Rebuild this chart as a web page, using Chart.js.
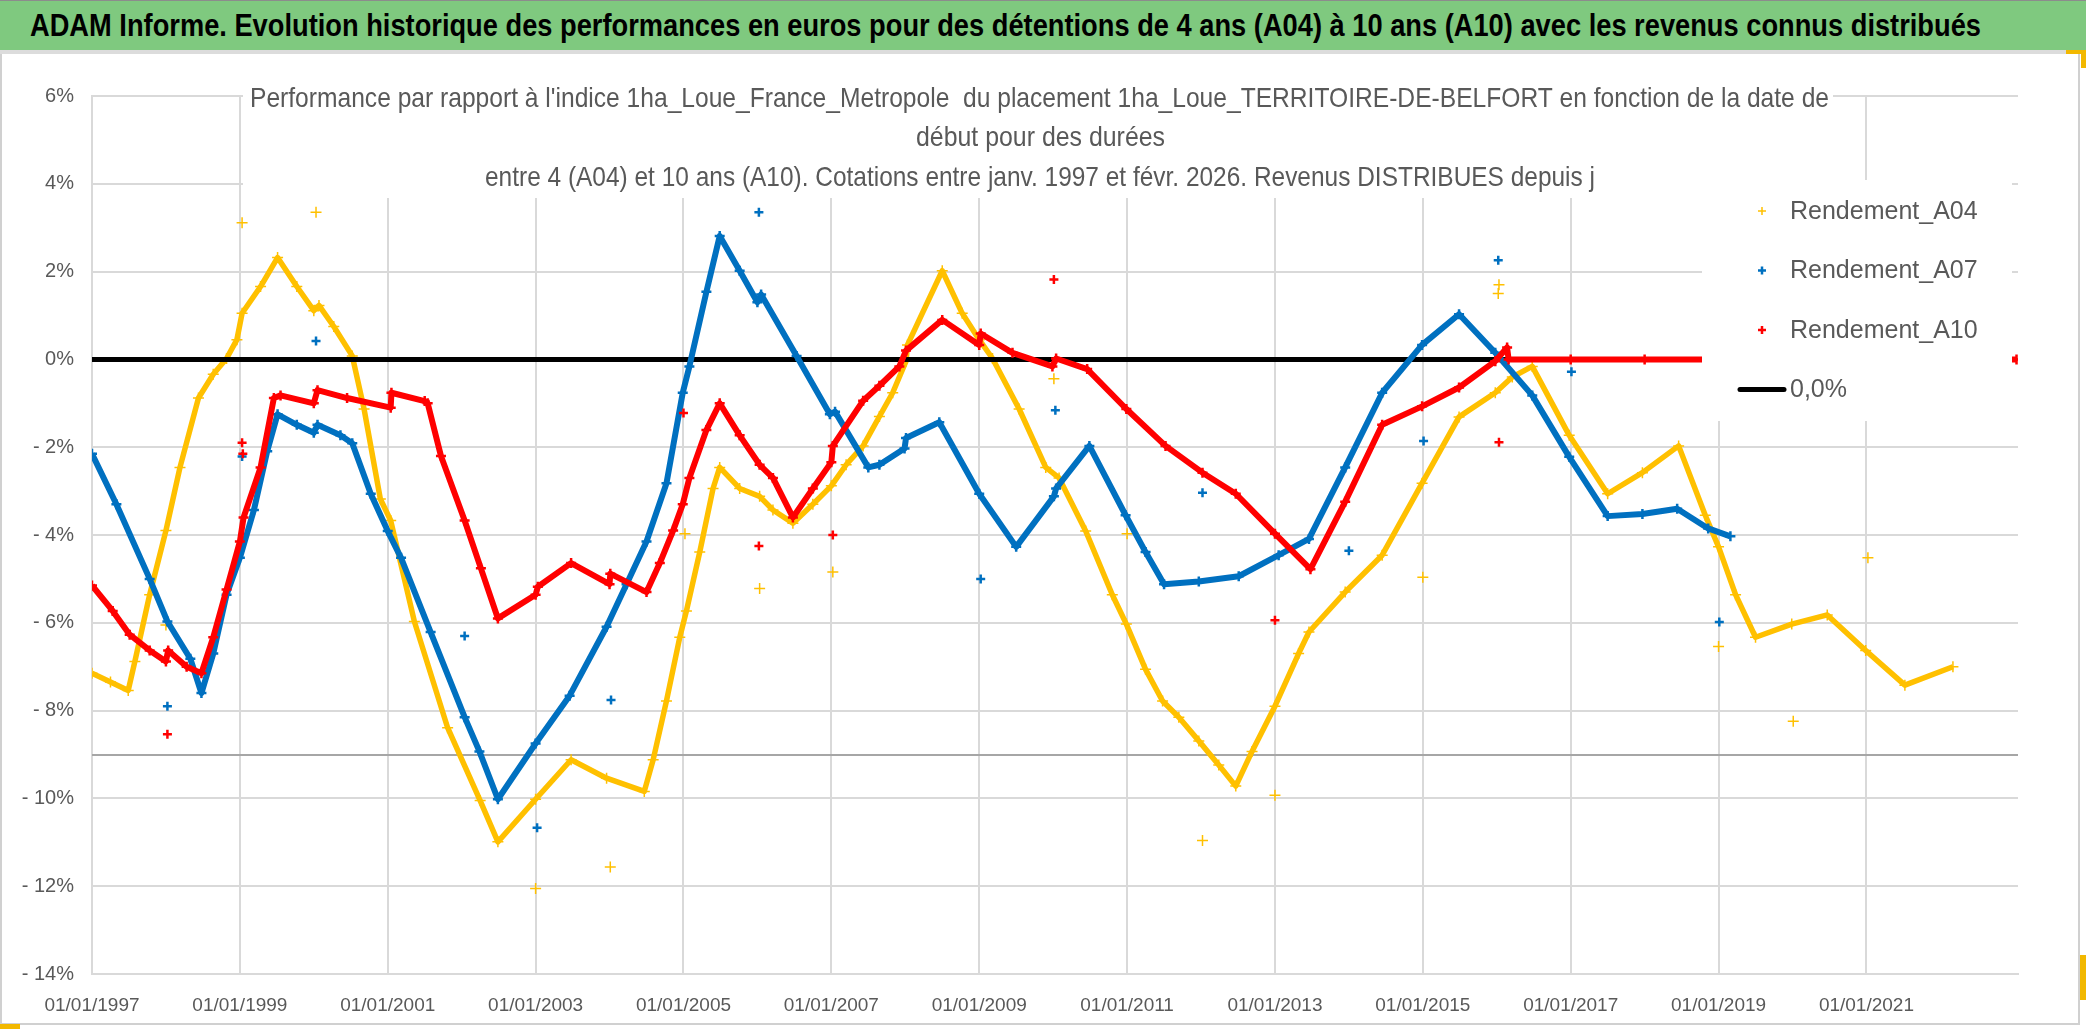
<!DOCTYPE html>
<html lang="fr">
<head>
<meta charset="UTF-8">
<title>ADAM Informe - Rendements A04 A07 A10</title>
<style>
  html, body { margin: 0; padding: 0; background: #fff; }
  body { width: 2086px; height: 1031px; position: relative; overflow: hidden; }
  #bandeau { position: absolute; left: 0; top: 0; width: 2086px; height: 50px; background: #7fc97f;
             border-top: 1px solid #8c8c8c; box-sizing: border-box; z-index: 2; }
  #bandeau span { position: absolute; left: 30px; top: 9px; font: bold 31px/31px "Liberation Sans Narrow", "Liberation Sans", Arial, sans-serif;
                  white-space: nowrap; color: #000; transform-origin: left top; }
  #sep { position: absolute; left: 0; top: 50px; width: 2086px; height: 4px; background: #dcdcdc; z-index: 2; }
  #zone { position: absolute; left: 0; top: 0; width: 2086px; height: 1031px; }
  .poignee { position: absolute; background: #f2b800; z-index: 3; }
</style>
</head>
<body>
<div id="bandeau"><span id="titre">ADAM Informe. Evolution historique des performances en euros pour des détentions de 4 ans (A04) à 10 ans (A10) avec les revenus connus distribués</span></div>
<div id="sep"></div>
<div class="poignee" style="left:2066px;top:50px;width:20px;height:4px"></div>
<div class="poignee" style="left:2081px;top:50px;width:5px;height:18px"></div>
<div class="poignee" style="left:2080px;top:955px;width:6px;height:45px"></div>
<div class="poignee" style="left:0;top:1024px;width:20px;height:5px"></div>
<div id="zone"><canvas id="graphe"></canvas></div>

<script src="https://cdn.jsdelivr.net/npm/chart.js"></script>
<script>
// --- données (années décimales, rendement en %) ---
const a04Years = [1997.00, 1997.25, 1997.49, 1997.58, 1997.78, 1998.00, 1998.19, 1998.44, 1998.64, 1998.82, 1998.96,
  1999.03, 1999.28, 1999.51, 1999.77, 2000.00, 2000.07, 2000.27, 2000.52, 2000.68, 2000.90, 2001.04, 2001.36, 2001.81,
  2002.25, 2002.49, 2003.00, 2003.48, 2003.96, 2004.47, 2004.59, 2004.77, 2004.95, 2005.04, 2005.22, 2005.40, 2005.49,
  2005.76, 2006.03, 2006.21, 2006.48, 2006.75, 2007.00, 2007.20, 2007.43, 2007.65, 2007.83, 2008.01, 2008.03, 2008.50,
  2008.77, 2009.00, 2009.18, 2009.54, 2009.90, 2010.08, 2010.44, 2010.80, 2010.99, 2011.25, 2011.48, 2011.70, 2011.97,
  2012.24, 2012.47, 2012.69, 2013.00, 2013.32, 2013.46, 2013.95, 2014.45, 2014.99, 2015.49, 2015.98, 2016.21, 2016.48,
  2016.98, 2017.50, 2017.97, 2018.46, 2018.82, 2019.00, 2019.23, 2019.50, 2019.99, 2020.47, 2020.99, 2021.52, 2022.17];
const a04Values = [-7.15, -7.35, -7.54, -6.88, -5.36, -3.90, -2.46, -0.88, -0.34, 0.02, 0.45,
  1.05, 1.66, 2.32, 1.66, 1.11, 1.23, 0.75, 0.08, -1.13, -3.18, -3.67, -5.97, -8.39,
  -10.05, -10.99, -10.02, -9.12, -9.54, -9.84, -9.12, -7.78, -6.33, -5.73, -4.39, -2.94, -2.46,
  -2.94, -3.12, -3.43, -3.73, -3.30, -2.88, -2.40, -1.97, -1.30, -0.76, -0.04, 0.33, 2.02,
  1.05, 0.45, 0.02, -1.13, -2.46, -2.70, -3.91, -5.36, -6.03, -7.06, -7.78, -8.15, -8.69,
  -9.24, -9.72, -8.93, -7.90, -6.70, -6.21, -5.30, -4.46, -2.82, -1.31, -0.76, -0.40, -0.16,
  -1.73, -3.06, -2.58, -1.97, -3.55, -4.27, -5.36, -6.33, -6.03, -5.82, -6.63, -7.42, -7.00];
const a04OutYears = [1998.00, 1999.03, 2000.03, 2003.00, 2004.01, 2005.02, 2006.03, 2007.02, 2010.01, 2011.00,
  2012.02, 2013.00, 2015.00, 2016.02, 2016.03, 2019.00, 2020.01, 2021.02];
const a04OutValues = [-6.05, 3.11, 3.35, -12.05, -11.56, -3.97, -5.22, -4.84, -0.44, -3.97,
  -10.96, -9.93, -4.96, 1.50, 1.70, -6.54, -8.24, -4.52];

const a07Years = [1997.00, 1997.33, 1997.78, 1998.02, 1998.33, 1998.48, 1998.64, 1998.82, 1999.00, 1999.19, 1999.37,
  1999.51, 1999.77, 2000.00, 2000.05, 2000.36, 2000.52, 2000.77, 2001.00, 2001.18, 2001.58, 2002.04, 2002.24, 2002.49,
  2003.00, 2003.46, 2003.96, 2004.23, 2004.50, 2004.77, 2004.99, 2005.08, 2005.31, 2005.49, 2005.76, 2006.00, 2006.05,
  2006.53, 2006.98, 2007.05, 2007.50, 2007.65, 2007.99, 2008.01, 2008.46, 2009.00, 2009.50, 2010.01, 2010.04, 2010.49,
  2010.98, 2011.25, 2011.50, 2011.97, 2012.51, 2013.05, 2013.46, 2013.95, 2014.45, 2014.99, 2015.49, 2015.98, 2016.48,
  2016.98, 2017.50, 2017.97, 2018.44, 2018.86, 2019.16];
const a07Values = [-2.15, -3.30, -5.00, -5.97, -6.82, -7.60, -6.70, -5.36, -4.52, -3.43, -2.09,
  -1.25, -1.49, -1.67, -1.49, -1.73, -1.91, -3.06, -3.91, -4.52, -6.21, -8.15, -8.93, -10.02,
  -8.75, -7.66, -6.09, -5.12, -4.15, -2.82, -0.76, -0.16, 1.54, 2.81, 2.02, 1.30, 1.48,
  0.08, -1.25, -1.19, -2.46, -2.40, -2.03, -1.79, -1.43, -3.06, -4.27, -3.12, -2.94, -1.97,
  -3.55, -4.39, -5.12, -5.06, -4.94, -4.46, -4.09, -2.46, -0.76, 0.33, 1.03, 0.15, -0.82,
  -2.22, -3.57, -3.52, -3.40, -3.85, -4.03];
const a07OutYears = [1998.02, 1999.03, 2000.03, 2002.04, 2003.02, 2004.02, 2006.02, 2009.02, 2010.03, 2012.02,
  2014.00, 2015.01, 2016.02, 2017.01, 2019.01];
const a07OutValues = [-7.90, -2.21, 0.42, -6.30, -10.67, -7.76, 3.35, -5.00, -1.16, -3.04,
  -4.36, -1.86, 2.26, -0.28, -5.98];

const a10Years = [1997.00, 1997.28, 1997.51, 1997.78, 1998.00, 1998.03, 1998.28, 1998.48, 1998.64, 1998.82, 1999.00,
  1999.05, 1999.28, 1999.46, 1999.55, 2000.00, 2000.05, 2000.45, 2001.04, 2001.05, 2001.50, 2001.54, 2001.72, 2002.04,
  2002.26, 2002.49, 2003.00, 2003.03, 2003.48, 2004.00, 2004.01, 2004.50, 2004.68, 2004.86, 2004.99, 2005.08, 2005.31,
  2005.49, 2005.76, 2006.03, 2006.21, 2006.48, 2006.75, 2007.00, 2007.02, 2007.43, 2007.65, 2007.92, 2008.01, 2008.50,
  2009.00, 2009.02, 2009.45, 2009.99, 2010.04, 2010.46, 2010.99, 2011.52, 2012.02, 2012.47, 2013.00, 2013.48, 2013.95,
  2014.45, 2014.99, 2015.49, 2015.98, 2016.14, 2016.16, 2017.00, 2018.00, 2019.00, 2020.00, 2021.00, 2022.00, 2023.03];
const a10Values = [-5.15, -5.73, -6.27, -6.63, -6.88, -6.63, -7.00, -7.15, -6.33, -5.24, -4.15,
  -3.60, -2.46, -0.88, -0.82, -1.00, -0.70, -0.88, -1.10, -0.76, -0.95, -1.00, -2.20, -3.67,
  -4.76, -5.90, -5.36, -5.18, -4.64, -5.12, -4.88, -5.30, -4.64, -3.90, -3.30, -2.70, -1.61,
  -1.00, -1.73, -2.40, -2.70, -3.60, -2.94, -2.34, -1.97, -0.94, -0.60, -0.16, 0.20, 0.90,
  0.33, 0.59, 0.15, -0.16, 0.02, -0.22, -1.13, -1.97, -2.58, -3.06, -3.97, -4.78, -3.24,
  -1.49, -1.07, -0.64, -0.04, 0.27, 0.00, 0.00, 0.00, 0.00, 0.00, 0.00, 0.00, 0.00];
const a10OutYears = [1998.02, 1999.03, 1999.04, 2005.00, 2006.02, 2007.02, 2010.01, 2013.00, 2016.03];
const a10OutValues = [-8.54, -1.90, -2.15, -1.22, -4.25, -4.00, 1.82, -5.94, -1.89];

const zeroYears = [1997.00, 2023.03];
const zeroValues = [0, 0];

const xTickYears = [1997, 1999, 2001, 2003, 2005, 2007, 2009, 2011, 2013, 2015, 2017, 2019, 2021];
const xTickLabels = ['01/01/1997', '01/01/1999', '01/01/2001', '01/01/2003', '01/01/2005', '01/01/2007', '01/01/2009',
  '01/01/2011', '01/01/2013', '01/01/2015', '01/01/2017', '01/01/2019', '01/01/2021'];
const yTickValues = [-14, -12, -10, -8, -6, -4, -2, 0, 2, 4, 6];
const yTickLabels = ['- 14%', '- 12%', '- 10%', '- 8%', '- 6%', '- 4%', '- 2%', '0%', '2%', '4%', '6%'];

const subtitleLines = [
  "Performance par rapport à l'indice 1ha_Loue_France_Metropole  du placement 1ha_Loue_TERRITOIRE-DE-BELFORT en fonction de la date de",
  "début pour des durées",
  "entre 4 (A04) et 10 ans (A10). Cotations entre janv. 1997 et févr. 2026. Revenus DISTRIBUES depuis j"
];

const JAUNE = '#FFC000', BLEU = '#0070C0', ROUGE = '#FF0000';
const GRIS_TXT = '#595959';

function points(xs, ys) {
  return xs.map((x, i) => ({ x: x, y: ys[i] }));
}

// bandeau : on ajuste la largeur du texte à celle de l'original
(function () {
  const s = document.getElementById('titre');
  const k = 1951 / s.getBoundingClientRect().width;
  s.style.transform = 'scaleX(' + k + ')';
})();

function fitText(ctx, text, left, width, y) {
  const w = ctx.measureText(text).width;
  ctx.save();
  ctx.translate(left, y);
  ctx.scale(width / w, 1);
  ctx.fillText(text, 0, 0);
  ctx.restore();
}

// fond, cadre, ligne à -9 %, cartouche du titre
const decor = {
  id: 'decor',
  beforeDraw(chart) {
    const c = chart.ctx;
    c.save();
    c.fillStyle = '#fff';
    c.fillRect(0, 0, chart.width, chart.height);
    c.strokeStyle = '#d0d0d0';
    c.lineWidth = 2;
    c.beginPath();
    c.moveTo(1, 54); c.lineTo(1, 1024);
    c.moveTo(0, 1024); c.lineTo(2080, 1024);
    c.moveTo(2079, 54); c.lineTo(2079, 1024);
    c.stroke();
    c.restore();
  },
  beforeDatasetsDraw(chart) {
    const c = chart.ctx, a = chart.chartArea, y = chart.scales.y;
    c.save();
    c.strokeStyle = '#a6a6a6';
    c.lineWidth = 2;
    c.beginPath();
    const y9 = Math.round(y.getPixelForValue(-9));
    c.moveTo(a.left, y9); c.lineTo(a.right, y9);
    c.stroke();
    // cartouche blanc du titre
    c.fillStyle = '#fff';
    c.fillRect(243, 80, 1590, 118);
    c.fillStyle = GRIS_TXT;
    c.textBaseline = 'middle';
    c.font = '28px "Liberation Sans Narrow", "Liberation Sans", Arial, sans-serif';
    fitText(c, subtitleLines[0], 250, 1579, 99);
    fitText(c, subtitleLines[1], 916, 249, 138);
    fitText(c, subtitleLines[2], 485, 1110, 178);
    c.restore();
  }
};

// légende dessinée dans la zone de tracé, comme dans l'original
const legende = {
  id: 'legende',
  afterDatasetsDraw(chart) {
    const c = chart.ctx;
    const items = chart.data.datasets.filter(d => d.inLegend);
    c.save();
    c.fillStyle = '#fff';
    c.fillRect(1702, 180, 310, 241);
    c.font = '25px "Liberation Sans", Arial, sans-serif';
    c.textBaseline = 'middle';
    items.forEach((d, i) => {
      const yy = 211 + i * 59.5;
      c.strokeStyle = d.borderColor;
      if (d.pointRadius === 0) {
        c.lineWidth = 5;
        c.lineCap = 'round';
        c.beginPath();
        c.moveTo(1740, yy); c.lineTo(1784, yy);
        c.stroke();
      } else {
        c.lineWidth = d.legendStroke;
        c.beginPath();
        c.moveTo(1758, yy); c.lineTo(1766, yy);
        c.moveTo(1762, yy - 4); c.lineTo(1762, yy + 4);
        c.stroke();
      }
      c.fillStyle = GRIS_TXT;
      c.fillText(d.label, 1790, yy + 1);
    });
    c.restore();
  }
};

function serie(label, xs, ys, color, order, lw, pr, pw, legendStroke) {
  return {
    label: label, data: points(xs, ys), showLine: true, inLegend: true, legendStroke: legendStroke,
    borderColor: color, backgroundColor: color, borderWidth: lw, order: order, borderJoinStyle: 'round',
    pointStyle: 'cross', pointRadius: pr, pointBorderWidth: pw, pointBorderColor: color, tension: 0
  };
}
function isoles(label, xs, ys, color, order, pr, pw) {
  return {
    label: label, data: points(xs, ys), showLine: false, inLegend: false,
    borderColor: color, backgroundColor: color, order: order,
    pointStyle: 'cross', pointRadius: pr, pointBorderWidth: pw, pointBorderColor: color
  };
}

const graphe = new Chart(document.getElementById('graphe'), {
  type: 'scatter',
  data: {
    datasets: [
      serie('Rendement_A04', a04Years, a04Values, JAUNE, 4, 5.5, 5.5, 1.5, 1.5),
      serie('Rendement_A07', a07Years, a07Values, BLEU, 2, 6, 5, 2.5, 2.5),
      serie('Rendement_A10', a10Years, a10Values, ROUGE, 1, 6, 5, 2.5, 2.5),
      {
        label: '0,0%', data: points(zeroYears, zeroValues), showLine: true, inLegend: true,
        borderColor: '#000', backgroundColor: '#000', borderWidth: 5, pointRadius: 0, order: 3
      },
      isoles('A04 isolés', a04OutYears, a04OutValues, JAUNE, 4, 5.5, 1.5),
      isoles('A07 isolés', a07OutYears, a07OutValues, BLEU, 2, 4.5, 2.5),
      isoles('A10 isolés', a10OutYears, a10OutValues, ROUGE, 1, 4.5, 2.5)
    ]
  },
  options: {
    responsive: true,
    maintainAspectRatio: false,
    animation: false,
    events: [],
    devicePixelRatio: 1,
    layout: { padding: { left: 12, top: 96, right: 68, bottom: 7 } },
    plugins: { legend: { display: false }, title: { display: false }, tooltip: { enabled: false } },
    scales: {
      x: {
        type: 'linear', min: 1997, max: 2023.05,
        afterBuildTicks: s => { s.ticks = xTickYears.map(v => ({ value: v })); },
        afterFit: s => { s.height = 50; },
        grid: { color: '#d9d9d9', lineWidth: 2, drawTicks: false },
        border: { color: '#d9d9d9', width: 2 },
        ticks: {
          padding: 20, color: GRIS_TXT, maxRotation: 0, autoSkip: false,
          font: { family: '"Liberation Sans", Arial, sans-serif', size: 19 },
          callback: (v, i) => xTickLabels[xTickYears.indexOf(v)]
        }
      },
      y: {
        min: -14, max: 6,
        afterBuildTicks: s => { s.ticks = yTickValues.map(v => ({ value: v })); },
        afterFit: s => { s.width = 80; },
        grid: { color: '#d9d9d9', lineWidth: 2, drawTicks: false },
        border: { color: '#d9d9d9', width: 2 },
        ticks: {
          padding: 18, color: GRIS_TXT,
          font: { family: '"Liberation Sans", Arial, sans-serif', size: 20 },
          callback: v => yTickLabels[yTickValues.indexOf(v)]
        }
      }
    }
  },
  plugins: [decor, legende]
});
</script>
</body>
</html>
